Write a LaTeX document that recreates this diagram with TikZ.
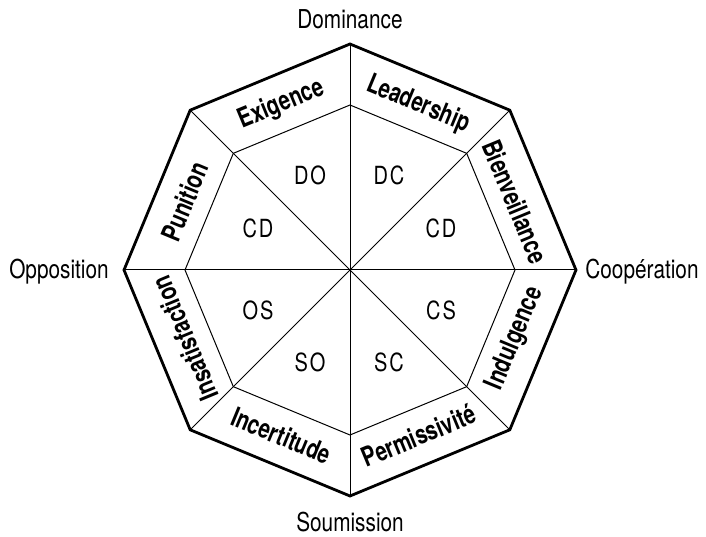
\documentclass[tikz,border=0pt]{standalone}
\usepackage{fontspec}
\setmainfont{TeX Gyre Heros}[FakeStretch=0.8, BoldFeatures={FakeStretch=0.76}]
\begin{document}
\begin{tikzpicture}[x=1pt,y=1pt,
  axislabel/.style={font=\fontsize{26}{29}\selectfont, inner sep=0pt},
  ringlabel/.style={font=\fontsize{27}{30}\selectfont\bfseries, inner sep=0pt},
  zonelabel/.style={font=\fontsize{25}{28}\selectfont, inner sep=0pt},
  outerline/.style={line width=2.8pt, line join=miter},
  innerline/.style={line width=1pt}]
\useasboundingbox (-350,-267) rectangle (356,270);
\coordinate (c) at (0,0);
\foreach \i in {0,...,7} {
  \coordinate (o\i) at (\i*45:226);
  \coordinate (n\i) at (\i*45:165);
}
\foreach \i in {0,...,7} \draw[innerline] (c) -- (o\i);
\draw[innerline] (n0)--(n1)--(n2)--(n3)--(n4)--(n5)--(n6)--(n7)--cycle;
\draw[outerline] (o0)--(o1)--(o2)--(o3)--(o4)--(o5)--(o6)--(o7)--cycle;
% ring labels
\node[ringlabel, rotate=-22.5] (lead) at (67.5:179) {Leadership};
\node[ringlabel, rotate=22.5] (exig) at (112.5:179) {Exigence};
\node[ringlabel, rotate=67.5] (puni) at (157.5:179) {Punition};
\node[ringlabel, rotate=112.5] (insa) at (202.5:179) {Insatisfaction};
\node[ringlabel, rotate=-22.5] (ince) at (247.5:179) {Incertitude};
\node[ringlabel, rotate=22.5] (perm) at (292.5:179) {Permissivité};
\node[ringlabel, rotate=67.5] (indu) at (337.5:179) {Indulgence};
\node[ringlabel, rotate=-67.5] (bien) at (22.5:179) {Bienveillance};
% zone labels
\node[zonelabel] (do) at (-40,95) {D\kern2pt O};
\node[zonelabel] (dc) at (39,95) {D\kern2pt C};
\node[zonelabel] (cdl) at (-92,42) {C\kern2pt D};
\node[zonelabel] (cdr) at (91,42) {C\kern2pt D};
\node[zonelabel] (os) at (-92,-40) {O\kern2pt S};
\node[zonelabel] (cs) at (91,-40) {C\kern2pt S};
\node[zonelabel] (so) at (-40,-92) {S\kern2pt O};
\node[zonelabel] (sc) at (39,-92) {S\kern2pt C};
% axis labels
\node[axislabel] (dom) at (0,251) {Dominance};
\node[axislabel] (sou) at (0,-252) {Soumission};
\node[axislabel] (opp) at (-291,-2) {Opposition};
\node[axislabel] (coo) at (292,-2) {Coopération};
\end{tikzpicture}
\end{document}
